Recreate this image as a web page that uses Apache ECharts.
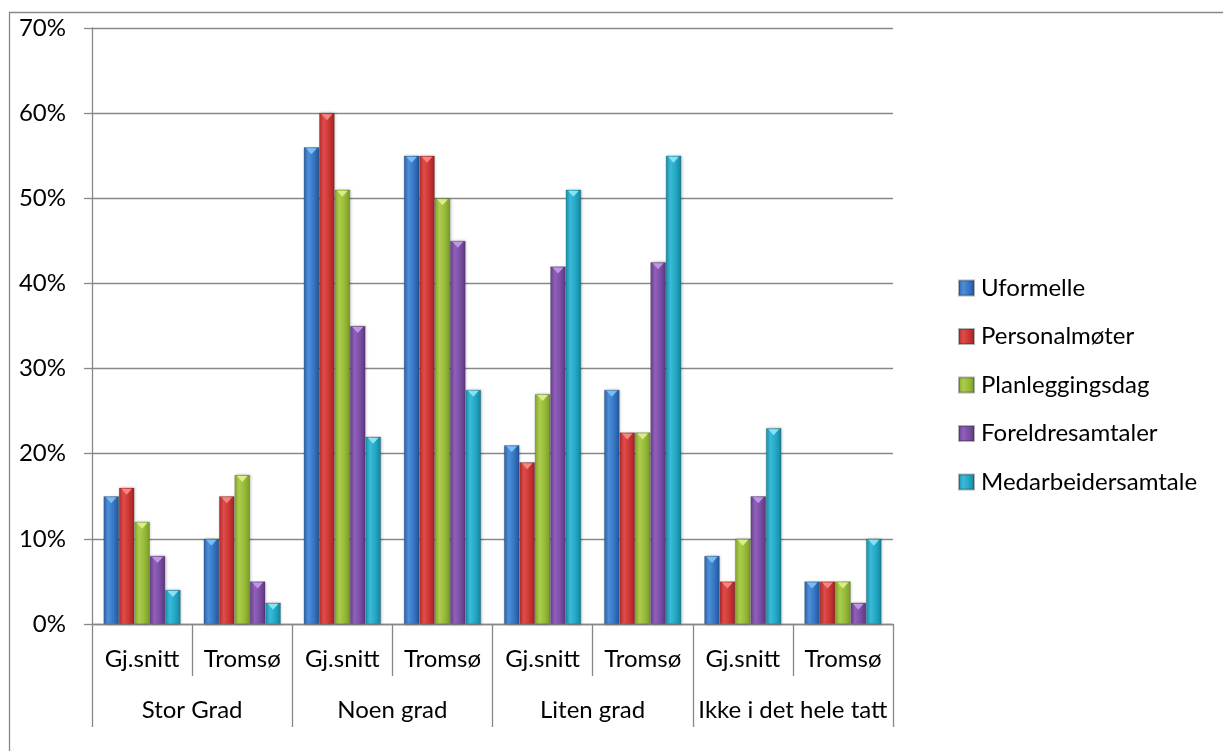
<!DOCTYPE html>
<html>
<head>
<meta charset="utf-8">
<script src="https://cdn.jsdelivr.net/npm/echarts@6/dist/echarts.min.js"></script>
<style>
  html, body { margin: 0; padding: 0; background: #fff; }
  #chart { width: 1223px; height: 751px; }
</style>
</head>
<body>
<div id="chart"></div>
<script>
// Two-level category axis: inner (sub) and outer (group) labels
const subCategories = ['Gj.snitt', 'Tromsø', 'Gj.snitt', 'Tromsø', 'Gj.snitt', 'Tromsø', 'Gj.snitt', 'Tromsø'];
const groupCategories = ['Stor Grad', 'Noen grad', 'Liten grad', 'Ikke i det hele tatt'];

const seriesNames = ['Uformelle', 'Personalmøter', 'Planleggingsdag', 'Foreldresamtaler', 'Medarbeidersamtale'];

// Percent values per series, one per sub-category
const uformelle          = [15, 10, 56, 55, 21, 27.5, 8, 5];
const personalmoter      = [16, 15, 60, 55, 19, 22.5, 5, 5];
const planleggingsdag    = [12, 17.5, 51, 50, 27, 22.5, 10, 5];
const foreldresamtaler   = [8, 5, 35, 45, 42, 42.5, 15, 2.5];
const medarbeidersamtale = [4, 2.5, 22, 27.5, 51, 55, 23, 10];

const yTicks = [0, 10, 20, 30, 40, 50, 60, 70];

const seriesValues = [uformelle, personalmoter, planleggingsdag, foreldresamtaler, medarbeidersamtale];

// Shaded bar colours: [left edge, highlight, mid, right edge, cap]
const palette = [
  ['#2b62a8', '#4d8fdb', '#3676c3', '#22549b', '#7cc0f5'],
  ['#b32b2b', '#e04c4a', '#c93634', '#a22222', '#f58a86'],
  ['#84a62c', '#abcd4c', '#97bb38', '#789a25', '#dcf08a'],
  ['#673e8c', '#9060ba', '#7a4ea4', '#5c3580', '#c29ae8'],
  ['#1790aa', '#3abbd8', '#22a7c4', '#13849c', '#8ae6f5']
];

function barGradient(c) {
  return new echarts.graphic.LinearGradient(0, 0, 1, 0, [
    { offset: 0, color: c[0] },
    { offset: 0.3, color: c[1] },
    { offset: 0.65, color: c[2] },
    { offset: 1, color: c[3] }
  ]);
}

const FONT = 'Lato';
const FONT_SIZE = 24;
const BAR_GAP_CAT = '23%';

const series = [];
seriesValues.forEach((vals, i) => {
  series.push({
    name: seriesNames[i],
    type: 'bar',
    data: vals,
    barGap: 0,
    barCategoryGap: BAR_GAP_CAT,
    itemStyle: {
      color: barGradient(palette[i]),
      borderColor: 'rgba(40,40,40,0.35)',
      borderWidth: 0.6,
      shadowColor: 'rgba(0,0,0,0.25)',
      shadowBlur: 3,
      shadowOffsetX: 1,
      shadowOffsetY: 0
    },
    emphasis: { disabled: true },
    z: 2
  });
});
// Bevelled caps on top of each bar
seriesValues.forEach((vals, i) => {
  series.push({
    name: seriesNames[i],
    type: 'pictorialBar',
    data: vals,
    barGap: 0,
    barCategoryGap: BAR_GAP_CAT,
    symbol: 'path://M0,0 L10,0 L5,6 Z',
    symbolSize: ['70%', 6],
    symbolPosition: 'end',
    symbolOffset: [0, 1],
    itemStyle: { color: palette[i][4], opacity: 0.95 },
    emphasis: { disabled: true },
    z: 3
  });
});

const chart = echarts.init(document.getElementById('chart'), null, { renderer: 'canvas' });
chart.setOption({
  animation: false,
  backgroundColor: '#fff',
  textStyle: { fontFamily: FONT },
  graphic: [{
    type: 'rect',
    shape: { x: 9.5, y: 12.5, width: 1400, height: 900 },
    style: { fill: 'none', stroke: '#888', lineWidth: 1.3 },
    silent: true,
    z: 0
  }],
  grid: { left: 92, right: 330, top: 28, bottom: 127, containLabel: false },
  legend: {
    data: seriesNames,
    orient: 'vertical',
    left: 958,
    top: 276,
    padding: 0,
    itemWidth: 15,
    itemHeight: 15,
    itemGap: 24.5,
    icon: 'rect',
    textStyle: { fontFamily: FONT, fontSize: FONT_SIZE, lineHeight: 15, color: '#000', padding: [0, 0, 0, 2] },
    selectedMode: false
  },
  xAxis: [
    {
      type: 'category',
      data: subCategories,
      position: 'bottom',
      axisLine: { lineStyle: { color: '#888', width: 1.3 } },
      axisTick: { show: true, interval: 0, length: 52, alignWithLabel: false, lineStyle: { color: '#888', width: 1.3 } },
      axisLabel: { interval: 0, margin: 23, fontFamily: FONT, fontSize: FONT_SIZE, color: '#000' }
    },
    {
      type: 'category',
      data: groupCategories,
      position: 'bottom',
      offset: 52,
      axisLine: { show: false },
      axisTick: { show: true, interval: 0, length: 51, alignWithLabel: false, lineStyle: { color: '#888', width: 1.3 } },
      axisLabel: { interval: 0, margin: 22, fontFamily: FONT, fontSize: FONT_SIZE, color: '#000' }
    }
  ],
  yAxis: {
    type: 'value',
    min: yTicks[0],
    max: yTicks[yTicks.length - 1],
    interval: 10,
    axisLine: { show: true, lineStyle: { color: '#888', width: 1.3 } },
    axisTick: { show: true, length: 8, lineStyle: { color: '#888', width: 1.3 } },
    splitLine: { show: true, lineStyle: { color: '#888', width: 1.3 } },
    axisLabel: { margin: 26, fontFamily: FONT, fontSize: FONT_SIZE, color: '#000', formatter: '{value}%' }
  },
  series: series
});
</script>
</body>
</html>
